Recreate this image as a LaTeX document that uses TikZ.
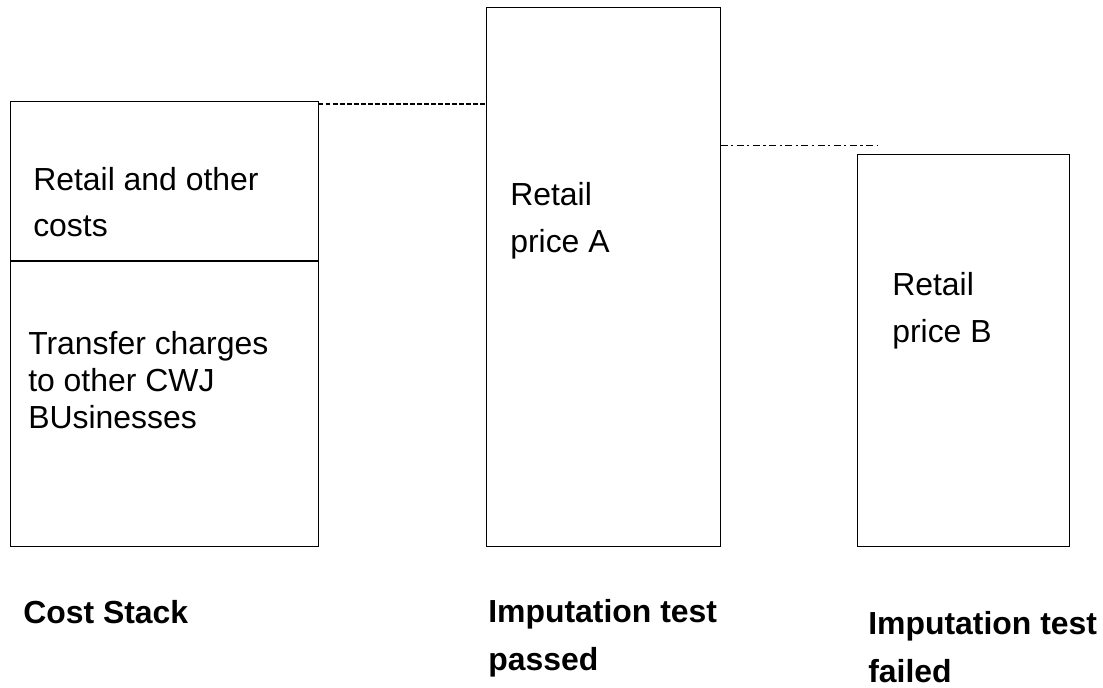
\documentclass[tikz,border=0pt]{standalone}
\usepackage{fontspec}
\setmainfont{Liberation Sans}
\usepackage{tikz}
\usetikzlibrary{calc}
\tikzstyle{box}=[rectangle,draw=black,line width=0.7pt,inner sep=0pt]
\tikzstyle{txt}=[anchor=base west,inner sep=0pt,align=left]
\tikzstyle{lbl}=[anchor=base west,inner sep=0pt,align=left,
  font=\fontsize{22.7}{34}\selectfont\bfseries]

\begin{document}
\begin{tikzpicture}[x=0.025cm,y=-0.025cm]
        \useasboundingbox (0,0) rectangle (1103,688);
        \node[style=box,minimum width=7.675cm,minimum height=3.975cm] (top) at (164.5,181.5) {};
        \node[style=box,minimum width=7.675cm,minimum height=7.125cm] (bot) at (164.5,403.5) {};
        \node[style=box,minimum width=5.825cm,minimum height=13.45cm] (pa) at (603.5,277) {};
        \node[style=box,minimum width=5.275cm,minimum height=9.775cm] (pb) at (963.5,350.5) {};
        \node[style=txt,font=\fontsize{22.7}{33.4}\selectfont] (t1) at (33,237) {Retail and other\\costs};
        \node[style=txt,font=\fontsize{22.7}{26.3}\selectfont] (t2) at (28,428) {Transfer charges\\to other CWJ\\BUsinesses};
        \node[style=txt,font=\fontsize{22.7}{34}\selectfont] (t3) at (510,253) {Retail\\price A};
        \node[style=txt,font=\fontsize{22.7}{34}\selectfont] (t4) at (892,343) {Retail\\price B};
        \node[style=lbl] (l1) at (23,623) {Cost Stack};
        \node[style=lbl] (l2) at (488,670) {Imputation test\\passed};
        \node[style=lbl] (l3) at (868,682) {Imputation test\\failed};
        \coordinate (end1) at (877,145);
        \draw[line width=1.8pt,dash pattern=on 3.5pt off 1.5pt] ($(top.north east)+(0,2.5)$) to ($(top.north east -| pa.west)+(0,2.5)$);
        \draw[line width=0.7pt,dash pattern=on 5pt off 2.5pt on 1.5pt off 2.5pt] (pa.east |- end1) to (end1);
    \end{tikzpicture}
\end{document}
